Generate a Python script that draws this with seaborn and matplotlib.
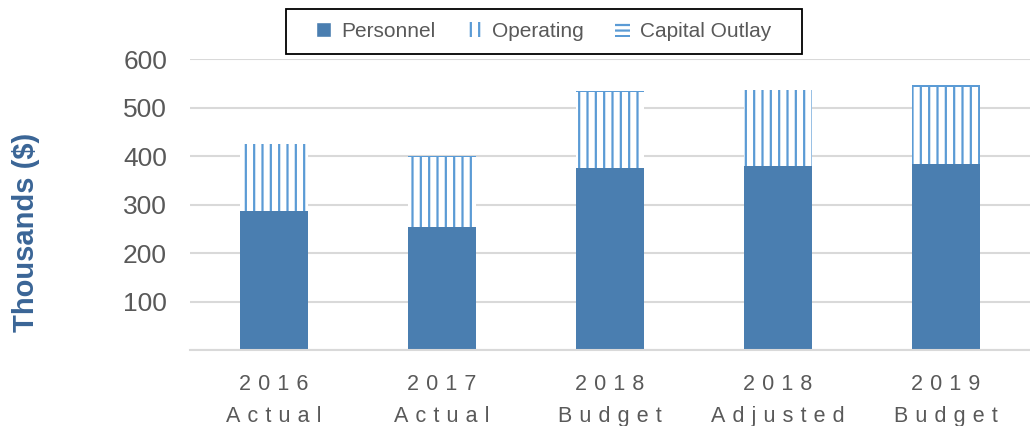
import matplotlib
matplotlib.use('Agg')
import matplotlib.pyplot as plt
from matplotlib.patches import Patch, Rectangle
import pandas as pd
import seaborn as sns

# values (thousands of dollars)
years = ['2016', '2017', '2018', '2018', '2019']
kinds = ['Actual', 'Actual', 'Budget', 'Adjusted', 'Budget']
personnel = [287, 254, 376, 380, 384]
operating = [138, 145, 157, 158, 159]
capital = [0, 1, 1, 0, 5]
yticks = [0, 100, 200, 300, 400, 500, 600]


def spaced(s):
    # wide letter spacing like the original axis labels
    return '\u2004'.join(s)


labels = [spaced(y) + '\n' + spaced(k) for y, k in zip(years, kinds)]
df = pd.DataFrame({'label': labels, 'Personnel': personnel,
                   'Operating': operating, 'Capital Outlay': capital})
df['ops_top'] = df['Personnel'] + df['Operating']
df['total'] = df['ops_top'] + df['Capital Outlay']

sns.set_style('white')
plt.rcParams['font.family'] = ['Liberation Sans', 'DejaVu Sans']
plt.rcParams['hatch.linewidth'] = 1.6

pers_c = '#4A7EB0'
light = '#5B9BD5'
grey = '#595959'

fig = plt.figure(figsize=(10.3, 4.26), dpi=100)
ax = fig.add_axes([0.1845, 0.1784, 0.8155, 0.6831])

# stacked bars drawn as overlapping cumulative totals
sns.barplot(data=df, x='label', y='total', color=light, width=0.4,
            saturation=1, linewidth=0, ax=ax)
sns.barplot(data=df, x='label', y='ops_top', color='white', width=0.4,
            saturation=1, hatch='||', edgecolor=light, linewidth=0, ax=ax)
sns.barplot(data=df, x='label', y='Personnel', color=pers_c, width=0.4,
            saturation=1, linewidth=0, ax=ax)

ax.set_ylim(0, 601)
ax.set_yticks(yticks)
ax.set_yticklabels([''] + [str(t) for t in yticks[1:]])
ax.yaxis.grid(True, color='#D9D9D9', lw=1.5)
ax.set_axisbelow(True)
for s in ['top', 'right', 'left']:
    ax.spines[s].set_visible(False)
ax.spines['bottom'].set_color('#D9D9D9')
ax.spines['bottom'].set_linewidth(1.5)

ax.tick_params(axis='y', length=0, pad=16.5, labelsize=19, labelcolor=grey)
ax.tick_params(axis='x', length=0, pad=17.5, labelsize=15.5, labelcolor=grey)
for t in ax.get_xticklabels():
    t.set_linespacing(1.65)

ax.set_xlabel('')
ax.set_ylabel('Thousands ($)', fontsize=21, fontweight='bold', color='#3A6596')
ax.yaxis.set_label_coords(-0.179, 0.405)

handles = [
    Patch(facecolor=pers_c, label='Personnel'),
    Patch(facecolor='white', edgecolor=light, hatch='||', lw=0, label='Operating'),
    Patch(facecolor='white', edgecolor=light, hatch='---', lw=0, label='Capital Outlay'),
]
fig.legend(handles=handles, loc='center', bbox_to_anchor=(0.528, 0.926),
           ncol=3, fontsize=15, frameon=False,
           handlelength=0.7, handleheight=0.7, handletextpad=0.5,
           columnspacing=1.5, borderpad=0.5, labelcolor=grey)
# legend frame, a bit wider than matplotlib's own padding
fig.patches.append(Rectangle((286 / 1030, 1 - 54 / 426), 516 / 1030, 45 / 426,
                             transform=fig.transFigure, fill=False,
                             edgecolor='black', lw=1.3))

fig.savefig('out.png', dpi=100)
